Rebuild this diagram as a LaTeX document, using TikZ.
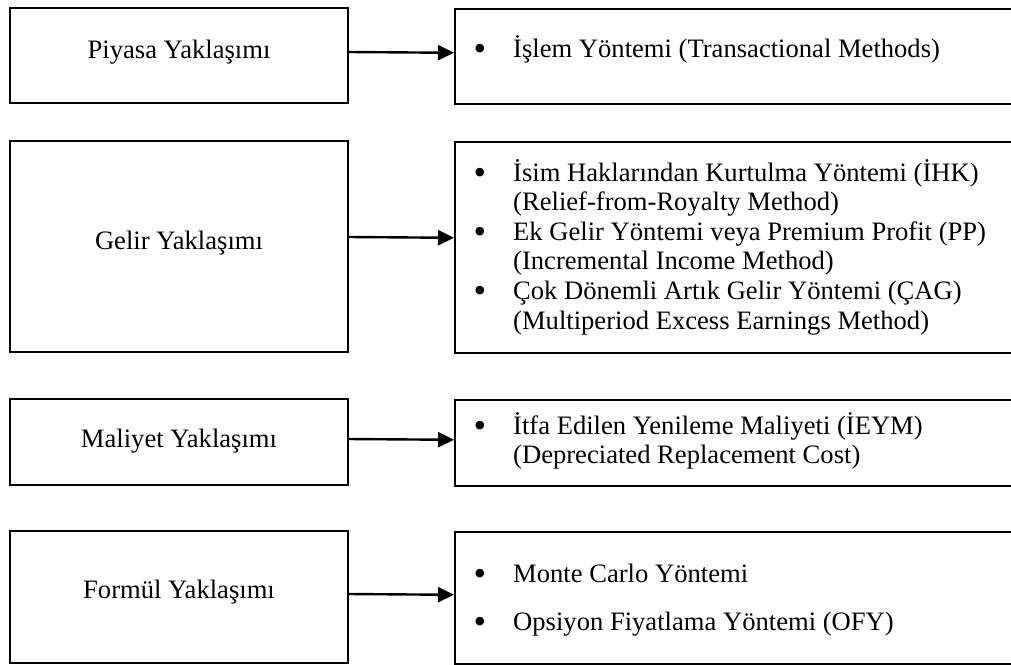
\documentclass[tikz,border=0pt]{standalone}
\usepackage{fontspec}
\setmainfont{Liberation Serif}
\usetikzlibrary{arrows.meta}

% bullet with a fixed hanging indent, and the matching indent for wrapped lines
\newcommand{\itembul}{\makebox[39.5pt][l]{\raisebox{-3pt}{\scalebox{1.35}{\textbullet}}}}
\newcommand{\itemind}{\hspace*{39.5pt}}

\tikzset{
  approachbox/.style={draw, line width=1.6pt, inner sep=0pt,
    minimum width=338pt, minimum height=#1},
  methodbox/.style={draw, line width=1.6pt, inner sep=0pt, anchor=north west,
    minimum width=620pt, minimum height=#1},
  boxlabel/.style={inner sep=0pt, anchor=base},
  methodlist/.style={inner sep=0pt, anchor=base west},
  link/.style={line width=2.4pt, -{Triangle[length=16pt,width=15pt]}}
}

\begin{document}
\begin{tikzpicture}[x=1pt, y=-1pt,
  every node/.append style={font=\fontsize{26.6}{29.6}\selectfont}]
  \clip (0,0) rectangle (1011,664);
  \fill[white] (0,0) rectangle (1011,664);

  % left column: valuation approaches
  \node[approachbox=95pt]  (piyasa)  at (179,55.5) {};
  \node[approachbox=211pt] (gelir)   at (179,246.5) {};
  \node[approachbox=86pt]  (maliyet) at (179,442) {};
  \node[approachbox=132pt] (formul)  at (179,597) {};

  \node[boxlabel] (piyasaT)  at (179,58)  {Piyasa Yaklaşımı};
  \node[boxlabel] (gelirT)   at (179,249) {Gelir Yaklaşımı};
  \node[boxlabel] (maliyetT) at (179,447) {Maliyet Yaklaşımı};
  \node[boxlabel] (formulT)  at (179,598) {Formül Yaklaşımı};

  % right column: methods (boxes run past the right edge)
  \node[methodbox=95pt]  (islem)   at (454,8) {};
  \node[methodbox=211pt] (gelirM)  at (454,141) {};
  \node[methodbox=86pt]  (maliyetM) at (454,399) {};
  \node[methodbox=132pt] (formulM) at (454,531) {};

  \node[methodlist] (islemT) at (473.5,57) {\parbox[t]{520pt}{%
    \itembul İşlem Yöntemi (Transactional Methods)}};
  \node[methodlist] (gelirMT) at (473.5,181) {\parbox[t]{520pt}{%
    \itembul İsim Haklarından Kurtulma Yöntemi (İHK)\\
    \itemind (Relief-from-Royalty Method)\\
    \itembul Ek Gelir Yöntemi veya Premium Profit (PP)\\
    \itemind (Incremental Income Method)\\
    \itembul Çok Dönemli Artık Gelir Yöntemi (ÇAG)\\
    \itemind (Multiperiod Excess Earnings Method)}};
  \node[methodlist] (maliyetMT) at (473.5,434) {\parbox[t]{520pt}{%
    \itembul İtfa Edilen Yenileme Maliyeti (İEYM)\\
    \itemind (Depreciated Replacement Cost)}};
  \node[methodlist] (formulMT) at (473.5,582) {\parbox[t]{520pt}{%
    \itembul Monte Carlo Yöntemi\\[18.4pt]
    \itembul Opsiyon Fiyatlama Yöntemi (OFY)}};

  % connectors
  \draw[link] ([yshift=3.5pt]piyasa.east)  -- ([yshift=3.5pt]islem.west);
  \draw[link] ([yshift=9.5pt]gelir.east)   -- ([yshift=9.5pt]gelirM.west);
  \draw[link] ([yshift=3pt]maliyet.east)   -- ([yshift=3pt]maliyetM.west);
  \draw[link] ([yshift=3pt]formul.east)    -- ([yshift=3pt]formulM.west);
\end{tikzpicture}
\end{document}
